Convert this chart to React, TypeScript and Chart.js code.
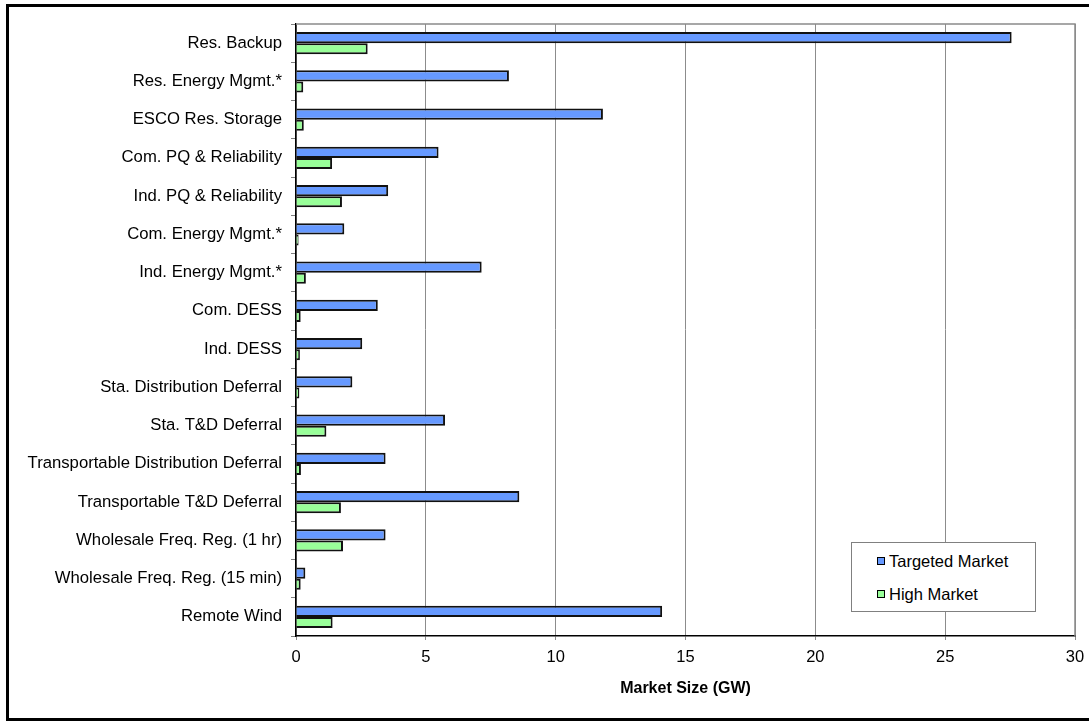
import React, { useEffect, useRef } from "react";
import { Chart, registerables } from "chart.js";

Chart.register(...registerables);

const categories = [
  "Res. Backup",
  "Res. Energy Mgmt.*",
  "ESCO Res. Storage",
  "Com. PQ & Reliability",
  "Ind. PQ & Reliability",
  "Com. Energy Mgmt.*",
  "Ind. Energy Mgmt.*",
  "Com. DESS",
  "Ind. DESS",
  "Sta. Distribution Deferral",
  "Sta. T&D Deferral",
  "Transportable Distribution Deferral",
  "Transportable T&D Deferral",
  "Wholesale Freq. Reg. (1 hr)",
  "Wholesale Freq. Reg. (15 min)",
  "Remote Wind",
];

const targetedMarket = [27.56, 8.2, 11.82, 5.49, 3.55, 1.86, 7.15, 3.15, 2.55, 2.17, 5.74, 3.45, 8.6, 3.45, 0.36, 14.1];
const highMarket = [2.76, 0.28, 0.3, 1.39, 1.77, 0.1, 0.38, 0.18, 0.15, 0.13, 1.17, 0.19, 1.73, 1.81, 0.18, 1.41];

const seriesNames = ["Targeted Market", "High Market"];
const seriesColors = ["#6699ff", "#99ff99"];
const xTicks = [0, 5, 10, 15, 20, 25, 30];
const xTitle = "Market Size (GW)";

const FONT = "Arial, 'Liberation Sans', sans-serif";

const framePlugin = {
  id: "frame",
  beforeDatasetsDraw(chart: any) {
    const { ctx, chartArea } = chart;
    ctx.save();
    ctx.strokeStyle = "#8a8a8a";
    ctx.lineWidth = 1.5;
    ctx.beginPath();
    ctx.moveTo(chartArea.left, chartArea.top);
    ctx.lineTo(chartArea.right, chartArea.top);
    ctx.lineTo(chartArea.right, chartArea.bottom);
    ctx.stroke();
    ctx.restore();
  },
};

export default function App() {
  const ref = useRef<HTMLCanvasElement | null>(null);

  useEffect(() => {
    if (!ref.current) return;
    const chart = new Chart(ref.current, {
      type: "bar",
      data: {
        labels: categories,
        datasets: [
          {
            label: seriesNames[0],
            data: targetedMarket,
            backgroundColor: seriesColors[0],
            borderColor: "#111111",
            borderWidth: 2,
          },
          {
            label: seriesNames[1],
            data: highMarket,
            backgroundColor: seriesColors[1],
            borderColor: "#111111",
            borderWidth: 2,
          },
        ],
      },
      options: {
        indexAxis: "y",
        animation: false,
        responsive: false,
        maintainAspectRatio: false,
        devicePixelRatio: 1,
        layout: { padding: { top: 24, right: 14, left: 0, bottom: 0 } },
        datasets: {
          bar: { barPercentage: 1, categoryPercentage: 0.585 },
        },
        plugins: {
          legend: { display: false },
          tooltip: { enabled: false },
          title: { display: false },
        },
        scales: {
          x: {
            type: "linear",
            min: 0,
            max: 30,
            afterBuildTicks(scale: any) {
              scale.ticks = xTicks.map((v) => ({ value: v }));
            },
            afterFit(scale: any) {
              scale.height = 85;
            },
            grid: {
              color: "#8c8c8c",
              lineWidth: 1,
              drawTicks: true,
              tickLength: 4,
            },
            border: { display: true, color: "#000000", width: 1.5 },
            ticks: {
              color: "#000000",
              font: { family: FONT, size: 16.5, lineHeight: 1.68 },
              padding: 4,
              maxRotation: 0,
            },
            title: {
              display: true,
              text: xTitle,
              color: "#000000",
              font: { family: FONT, size: 16, weight: "bold" },
              padding: { top: 0, bottom: 23 },
            },
          },
          y: {
            type: "category",
            afterFit(scale: any) {
              scale.width = 296;
            },
            grid: {
              drawOnChartArea: false,
              drawTicks: true,
              tickLength: 5,
              color: "#808080",
              offset: true,
            },
            border: { display: true, color: "#000000", width: 1.5 },
            ticks: {
              color: "#000000",
              font: { family: FONT, size: 16.7 },
              padding: 9,
              autoSkip: false,
            },
          },
        },
      },
      plugins: [framePlugin],
    } as any);
    return () => chart.destroy();
  }, []);

  const legendItem = (i: number, top: number) => (
    <div
      key={i}
      style={{
        position: "absolute",
        left: 25,
        top: top,
        height: 20,
        display: "flex",
        alignItems: "center",
        whiteSpace: "nowrap",
      }}
    >
      <span
        style={{
          display: "inline-block",
          width: 6,
          height: 6,
          border: "1.5px solid #000",
          background: seriesColors[i],
          marginRight: 4,
        }}
      />
      <span style={{ fontFamily: FONT, fontSize: 16.5, color: "#000" }}>{seriesNames[i]}</span>
    </div>
  );

  return (
    <div>
      <div
        style={{
          position: "fixed",
          left: 6,
          top: 4,
          width: 1200,
          height: 717,
          boxSizing: "border-box",
          border: "3px solid #000",
          background: "#fff",
        }}
      />
      <canvas
        ref={ref}
        width={1089}
        height={721}
        style={{ position: "fixed", left: 0, top: 0, width: 1089, height: 721 }}
      />
      <div
        style={{
          position: "fixed",
          left: 851,
          top: 542,
          width: 185,
          height: 70,
          boxSizing: "border-box",
          border: "1px solid #808080",
          background: "#fff",
        }}
      >
        {legendItem(0, 8)}
        {legendItem(1, 41)}
      </div>
    </div>
  );
}
